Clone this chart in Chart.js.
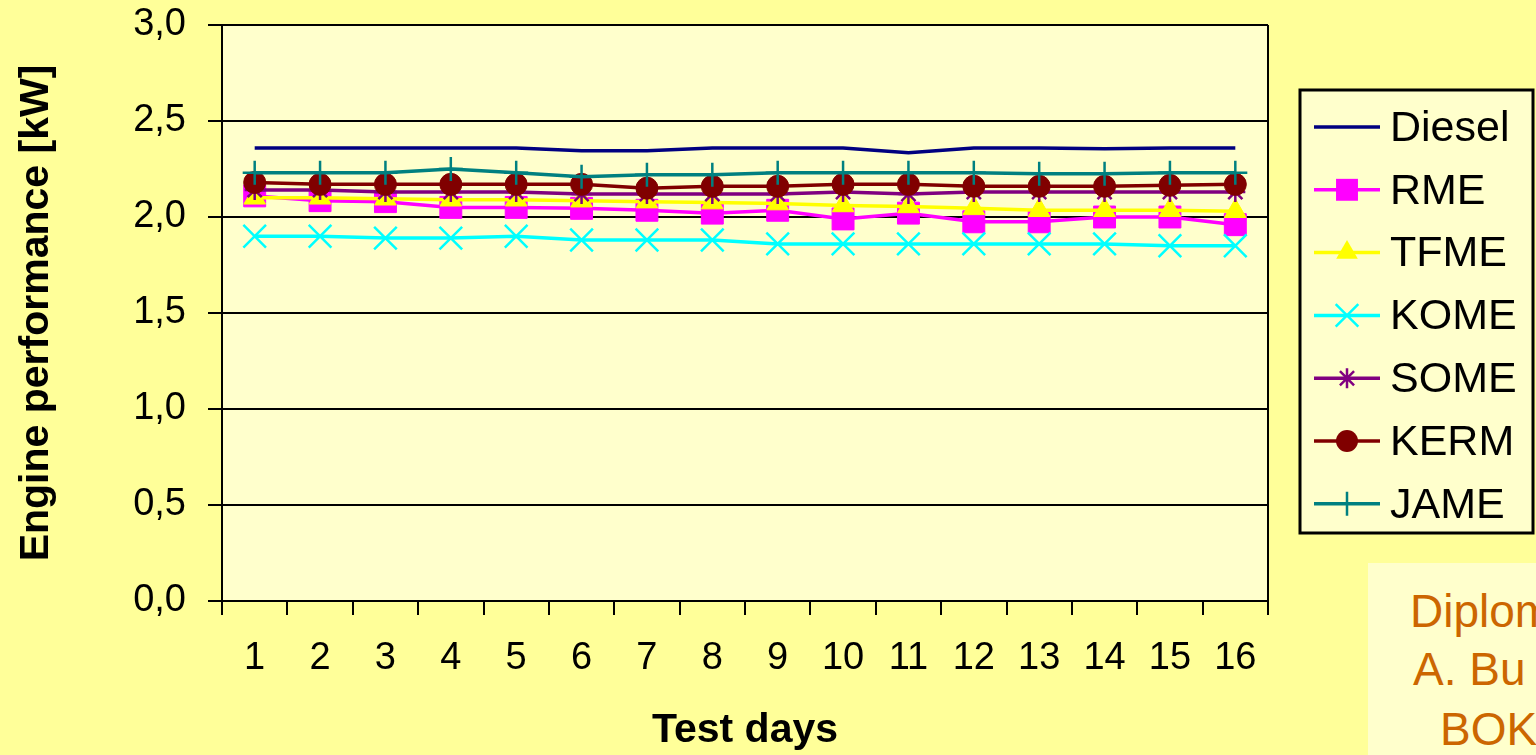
<!DOCTYPE html>
<html>
<head>
<meta charset="utf-8">
<script src="https://cdn.jsdelivr.net/npm/chart.js@4/dist/chart.umd.min.js"></script>
<style>
  html, body { margin: 0; padding: 0; background: #FFFF99; overflow: hidden; }
  #wrap { position: relative; width: 1536px; height: 755px; }
  #c { position: absolute; left: 0; top: 0; }
  #note { position: absolute; left: 1368px; top: 563px; width: 168px; height: 192px;
          background: #FFFFCC; overflow: hidden; font-family: "Liberation Sans", Arial, sans-serif;
          color: #CC6600; font-size: 46px; }
  #note div { position: absolute; white-space: nowrap; line-height: 1; }
</style>
</head>
<body>
<div id="wrap">
  <canvas id="c" width="1536" height="755"></canvas>
  <div id="note">
    <div style="left:42px; top:25px;">Diplomarbeit</div>
    <div style="left:45px; top:83px;">A. Bu</div>
    <div style="left:72px; top:143px;">BOKU</div>
  </div>
</div>
<script>
const days = ["1","2","3","4","5","6","7","8","9","10","11","12","13","14","15","16"];
const seriesNames = ["Diesel","RME","TFME","KOME","SOME","KERM","JAME"];
const diesel = [2.36,2.36,2.36,2.36,2.36,2.345,2.345,2.36,2.36,2.36,2.335,2.36,2.36,2.355,2.36,2.36];
const rme    = [2.11,2.085,2.08,2.05,2.05,2.045,2.035,2.02,2.035,1.99,2.02,1.975,1.975,2.00,2.00,1.96];
const tfme   = [2.10,2.10,2.095,2.09,2.09,2.085,2.08,2.075,2.07,2.06,2.055,2.045,2.035,2.035,2.035,2.03];
const kome   = [1.90,1.90,1.89,1.89,1.90,1.88,1.88,1.88,1.86,1.86,1.86,1.86,1.86,1.86,1.85,1.85];
const some   = [2.14,2.14,2.13,2.13,2.13,2.12,2.12,2.12,2.12,2.13,2.12,2.13,2.13,2.13,2.13,2.13];
const kerm   = [2.18,2.17,2.17,2.17,2.17,2.17,2.15,2.16,2.16,2.17,2.17,2.16,2.16,2.16,2.165,2.17];
const jame   = [2.23,2.23,2.23,2.25,2.23,2.21,2.22,2.22,2.23,2.23,2.23,2.23,2.225,2.225,2.23,2.23];
const yTicks = [0, 0.5, 1.0, 1.5, 2.0, 2.5, 3.0];

const FONT = '"Liberation Sans", Arial, sans-serif';
const styles = [
  {color:'#000080', point:'line', r:0, bw:3},
  {color:'#FF00FF', point:'rect', r:15.5, bw:1},
  {color:'#FFFF00', point:'triangle', r:12.5, bw:1},
  {color:'#00FFFF', point:'crossRot', r:16, bw:2.5},
  {color:'#800080', point:'star', r:10, bw:2.5},
  {color:'#800000', point:'circle', r:11, bw:1},
  {color:'#008080', point:'cross', r:12, bw:2.5}
];
const allData = [diesel, rme, tfme, kome, some, kerm, jame];

const datasets = allData.map((d, i) => ({
  label: seriesNames[i],
  data: d,
  borderColor: styles[i].color,
  backgroundColor: styles[i].color,
  borderWidth: 3.5,
  pointStyle: styles[i].point === 'line' ? false : styles[i].point,
  pointRadius: styles[i].r,
  pointBorderWidth: styles[i].bw,
  pointBorderColor: styles[i].color,
  pointBackgroundColor: styles[i].color,
  tension: 0,
  fill: false,
  order: 7 - i
}));

function drawMarker(ctx, style, x, y, r, color, bw) {
  ctx.save();
  ctx.strokeStyle = color; ctx.fillStyle = color; ctx.lineWidth = bw;
  ctx.beginPath();
  if (style === 'rect') {
    const s = Math.SQRT1_2 * r;
    ctx.rect(x - s, y - s, 2*s, 2*s); ctx.fill();
  } else if (style === 'triangle') {
    ctx.moveTo(x, y - r);
    ctx.lineTo(x + r*Math.sin(Math.PI*2/3), y - r*Math.cos(Math.PI*2/3));
    ctx.lineTo(x - r*Math.sin(Math.PI*2/3), y - r*Math.cos(Math.PI*2/3));
    ctx.closePath(); ctx.fill();
  } else if (style === 'circle') {
    ctx.arc(x, y, r, 0, Math.PI*2); ctx.fill();
  } else if (style === 'crossRot' || style === 'star') {
    const s = Math.SQRT1_2 * r;
    ctx.moveTo(x - s, y - s); ctx.lineTo(x + s, y + s);
    ctx.moveTo(x - s, y + s); ctx.lineTo(x + s, y - s);
    if (style === 'star') {
      ctx.moveTo(x, y - r); ctx.lineTo(x, y + r);
      ctx.moveTo(x - r, y); ctx.lineTo(x + r, y);
    }
    ctx.stroke();
  } else if (style === 'cross') {
    ctx.moveTo(x, y - r); ctx.lineTo(x, y + r);
    ctx.moveTo(x - r, y); ctx.lineTo(x + r, y);
    ctx.stroke();
  }
  ctx.restore();
}

const plotPlugin = {
  id: 'plotDecor',
  beforeDraw(chart) {
    const {ctx, chartArea: a} = chart;
    ctx.save();
    ctx.fillStyle = '#FFFFCC';
    ctx.fillRect(a.left, a.top, a.right - a.left, a.bottom - a.top);
    ctx.restore();
  },
  afterDraw(chart) {
    const {ctx, chartArea: a} = chart;
    ctx.save();
    ctx.strokeStyle = '#000'; ctx.lineWidth = 2;
    ctx.beginPath(); ctx.moveTo(a.right, a.top); ctx.lineTo(a.right, a.bottom); ctx.stroke();
    // legend
    const bx = 1300, by = 90, bwid = 233, bh = 443;
    ctx.fillStyle = '#FFFFCC';
    ctx.fillRect(bx, by, bwid, bh);
    ctx.lineWidth = 3; ctx.strokeStyle = '#000';
    ctx.strokeRect(bx, by, bwid, bh);
    ctx.font = '43px ' + FONT;
    ctx.textBaseline = 'middle';
    ctx.textAlign = 'left';
    chart.data.datasets.forEach((ds, i) => {
      const y = 127 + i * 62.8;
      ctx.strokeStyle = ds.borderColor; ctx.lineWidth = 3.5;
      ctx.beginPath(); ctx.moveTo(1314, y); ctx.lineTo(1380, y); ctx.stroke();
      if (styles[i].point !== 'line') {
        drawMarker(ctx, styles[i].point, 1347, y, styles[i].r, styles[i].color, styles[i].bw);
      }
      ctx.fillStyle = '#000';
      ctx.fillText(ds.label, 1390, y + 2);
    });
    ctx.restore();
  }
};

new Chart(document.getElementById('c'), {
  type: 'line',
  data: { labels: days, datasets: datasets },
  options: {
    responsive: false,
    animation: false,
    devicePixelRatio: 1,
    layout: { padding: { top: 25, right: 268, bottom: 0, left: 0 } },
    plugins: { legend: { display: false }, tooltip: { enabled: false } },
    scales: {
      x: {
        type: 'category',
        offset: true,
        grid: { display: true, drawOnChartArea: false, offset: true, color: '#000', lineWidth: 2, tickLength: 14, tickWidth: 2, tickColor: '#000' },
        border: { display: true, color: '#000', width: 2 },
        ticks: { color: '#000', font: { family: FONT, size: 38 }, padding: 21, maxRotation: 0, autoSkip: false },
        title: { display: true, text: 'Test days', color: '#000', font: { family: FONT, size: 41, weight: 'bold' }, padding: { top: 0, bottom: 0 } },
        afterFit(scale) { scale.height = 154; scale.paddingLeft = 0; scale.paddingRight = 0; scale.paddingTop = 0; scale.paddingBottom = 0; }
      },
      y: {
        min: 0, max: 3,
        afterBuildTicks(scale) { scale.ticks = yTicks.map(v => ({ value: v })); },
        grid: { color: '#000', lineWidth: 2, tickLength: 14, tickColor: '#000', tickWidth: 2 },
        border: { display: true, color: '#000', width: 2 },
        ticks: { color: '#000', font: { family: FONT, size: 38 }, padding: 22,
                 callback: (v) => Number(v).toFixed(1).replace('.', ',') },
        title: { display: true, text: 'Engine performance [kW]', color: '#000', font: { family: FONT, size: 41, weight: 'bold' }, padding: { top: 12, bottom: 0 } },
        afterFit(scale) { scale.width = 222; scale.paddingTop = 0; scale.paddingBottom = 0; scale.paddingLeft = 0; scale.paddingRight = 0; }
      }
    }
  },
  plugins: [plotPlugin]
});
</script>
</body>
</html>
